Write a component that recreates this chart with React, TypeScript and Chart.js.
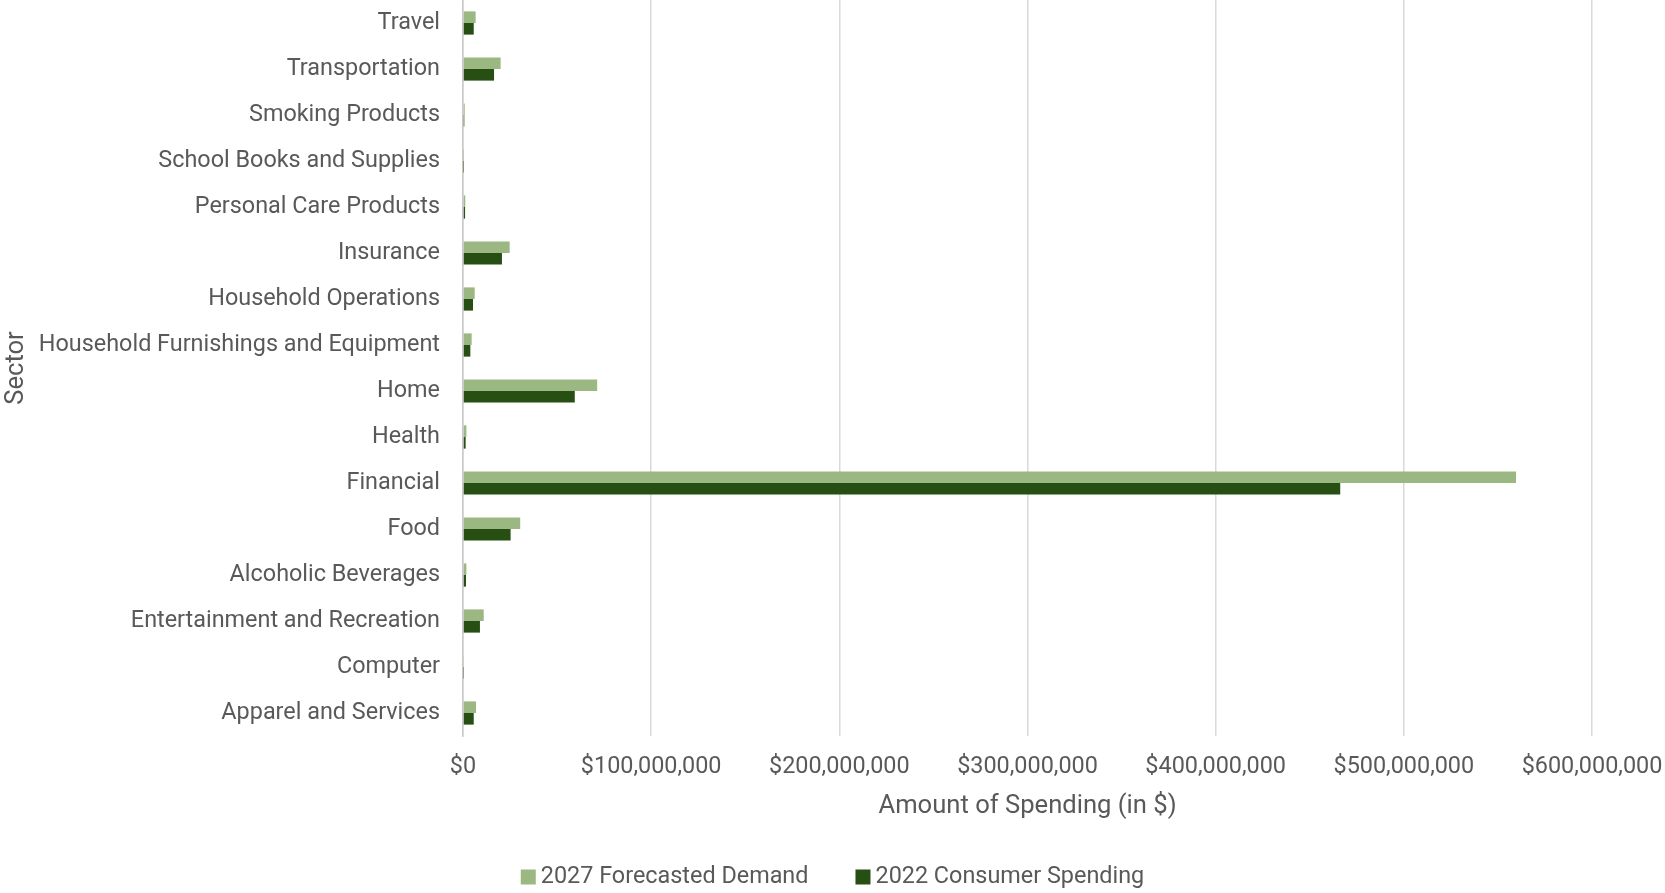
import React, { useEffect, useRef } from "react";
import { Chart, registerables } from "chart.js";

Chart.register(...registerables);

const categories = [
  "Travel",
  "Transportation",
  "Smoking Products",
  "School Books and Supplies",
  "Personal Care Products",
  "Insurance",
  "Household Operations",
  "Household Furnishings and Equipment",
  "Home",
  "Health",
  "Financial",
  "Food",
  "Alcoholic Beverages",
  "Entertainment and Recreation",
  "Computer",
  "Apparel and Services",
];

const forecast2027 = [
  6700000, 20000000, 900000, 200000, 1200000, 24800000, 6200000, 4600000,
  71300000, 1800000, 559600000, 30400000, 1800000, 11000000, 300000, 6900000,
];

const spending2022 = [
  5700000, 16500000, 700000, 150000, 1100000, 20700000, 5300000, 3900000,
  59400000, 1400000, 466200000, 25300000, 1600000, 9000000, 200000, 5700000,
];

const seriesNames = ["2027 Forecasted Demand", "2022 Consumer Spending"];
const seriesColors = ["#9BB782", "#274E13"];

const xMax = 600000000;
const xStep = 100000000;

const FONT = "Roboto";
const FONT_SIZE = 23.4;
const TITLE_SIZE = 25.6;
const TEXT_COLOR = "#595959";

const legendPlugin = {
  id: "bottomLegend",
  afterDraw(chart: any) {
    const ctx = chart.ctx;
    ctx.save();
    ctx.font = `${FONT_SIZE}px ${FONT}`;
    ctx.textBaseline = "middle";
    ctx.textAlign = "left";
    const box = 15;
    const gap = 5;
    const itemGap = 47;
    const items = chart.data.datasets.map((d: any) => ({
      label: d.label,
      color: d.backgroundColor,
      w: ctx.measureText(d.label).width,
    }));
    let total = 0;
    items.forEach((it: any, i: number) => {
      total += box + gap + it.w + (i < items.length - 1 ? itemGap : 0);
    });
    let x = chart.width / 2 - total / 2;
    const cy = 877;
    items.forEach((it: any) => {
      ctx.fillStyle = it.color;
      ctx.fillRect(x, cy - box / 2, box, box);
      x += box + gap;
      ctx.fillStyle = TEXT_COLOR;
      ctx.fillText(it.label, x, cy);
      x += it.w + itemGap;
    });
    ctx.restore();
  },
};

const zeroPadding = (scale: any) => {
  scale.paddingTop = 0;
  scale.paddingBottom = 0;
  scale.paddingLeft = 0;
  scale.paddingRight = 0;
};

export default function App() {
  const canvasRef = useRef<HTMLCanvasElement | null>(null);

  useEffect(() => {
    document.body.style.margin = "0";
    if (!canvasRef.current) return;
    const chart = new Chart(canvasRef.current, {
      type: "bar",
      data: {
        labels: categories,
        datasets: [
          {
            label: seriesNames[0],
            data: forecast2027,
            backgroundColor: seriesColors[0],
            categoryPercentage: 0.505,
            barPercentage: 1,
          },
          {
            label: seriesNames[1],
            data: spending2022,
            backgroundColor: seriesColors[1],
            categoryPercentage: 0.505,
            barPercentage: 1,
          },
        ],
      },
      plugins: [legendPlugin],
      options: {
        indexAxis: "y",
        animation: false,
        responsive: true,
        maintainAspectRatio: false,
        layout: { padding: { top: 0, right: 73, bottom: 0, left: 0 } },
        plugins: {
          legend: { display: false },
          tooltip: { enabled: false },
        },
        scales: {
          x: {
            min: 0,
            max: xMax,
            ticks: {
              stepSize: xStep,
              padding: 17,
              color: TEXT_COLOR,
              font: { family: FONT, size: FONT_SIZE },
              maxRotation: 0,
              callback: (v: any) => "$" + Number(v).toLocaleString("en-US"),
            },
            grid: { color: "#D9D9D9", lineWidth: 1.5, drawTicks: false },
            border: { display: false },
            title: {
              display: true,
              text: "Amount of Spending (in $)",
              color: TEXT_COLOR,
              font: { family: FONT, size: TITLE_SIZE },
              padding: { top: 0, bottom: 71 },
            },
            afterFit: (scale: any) => {
              scale.height = 157;
              zeroPadding(scale);
            },
          },
          y: {
            ticks: {
              padding: 23,
              color: TEXT_COLOR,
              font: { family: FONT, size: FONT_SIZE },
              autoSkip: false,
            },
            grid: { display: false, drawTicks: false },
            border: { display: true, color: "#C8C8C8", width: 1.5 },
            title: {
              display: true,
              text: "Sector",
              color: TEXT_COLOR,
              font: { family: FONT, size: TITLE_SIZE },
              padding: { top: 1, bottom: 0 },
            },
            afterFit: (scale: any) => {
              scale.width = 463;
              zeroPadding(scale);
            },
          },
        },
      },
    });
    return () => chart.destroy();
  }, []);

  return (
    <div style={{ position: "absolute", left: 0, top: 0, width: 1665, height: 893 }}>
      <canvas ref={canvasRef} />
    </div>
  );
}
